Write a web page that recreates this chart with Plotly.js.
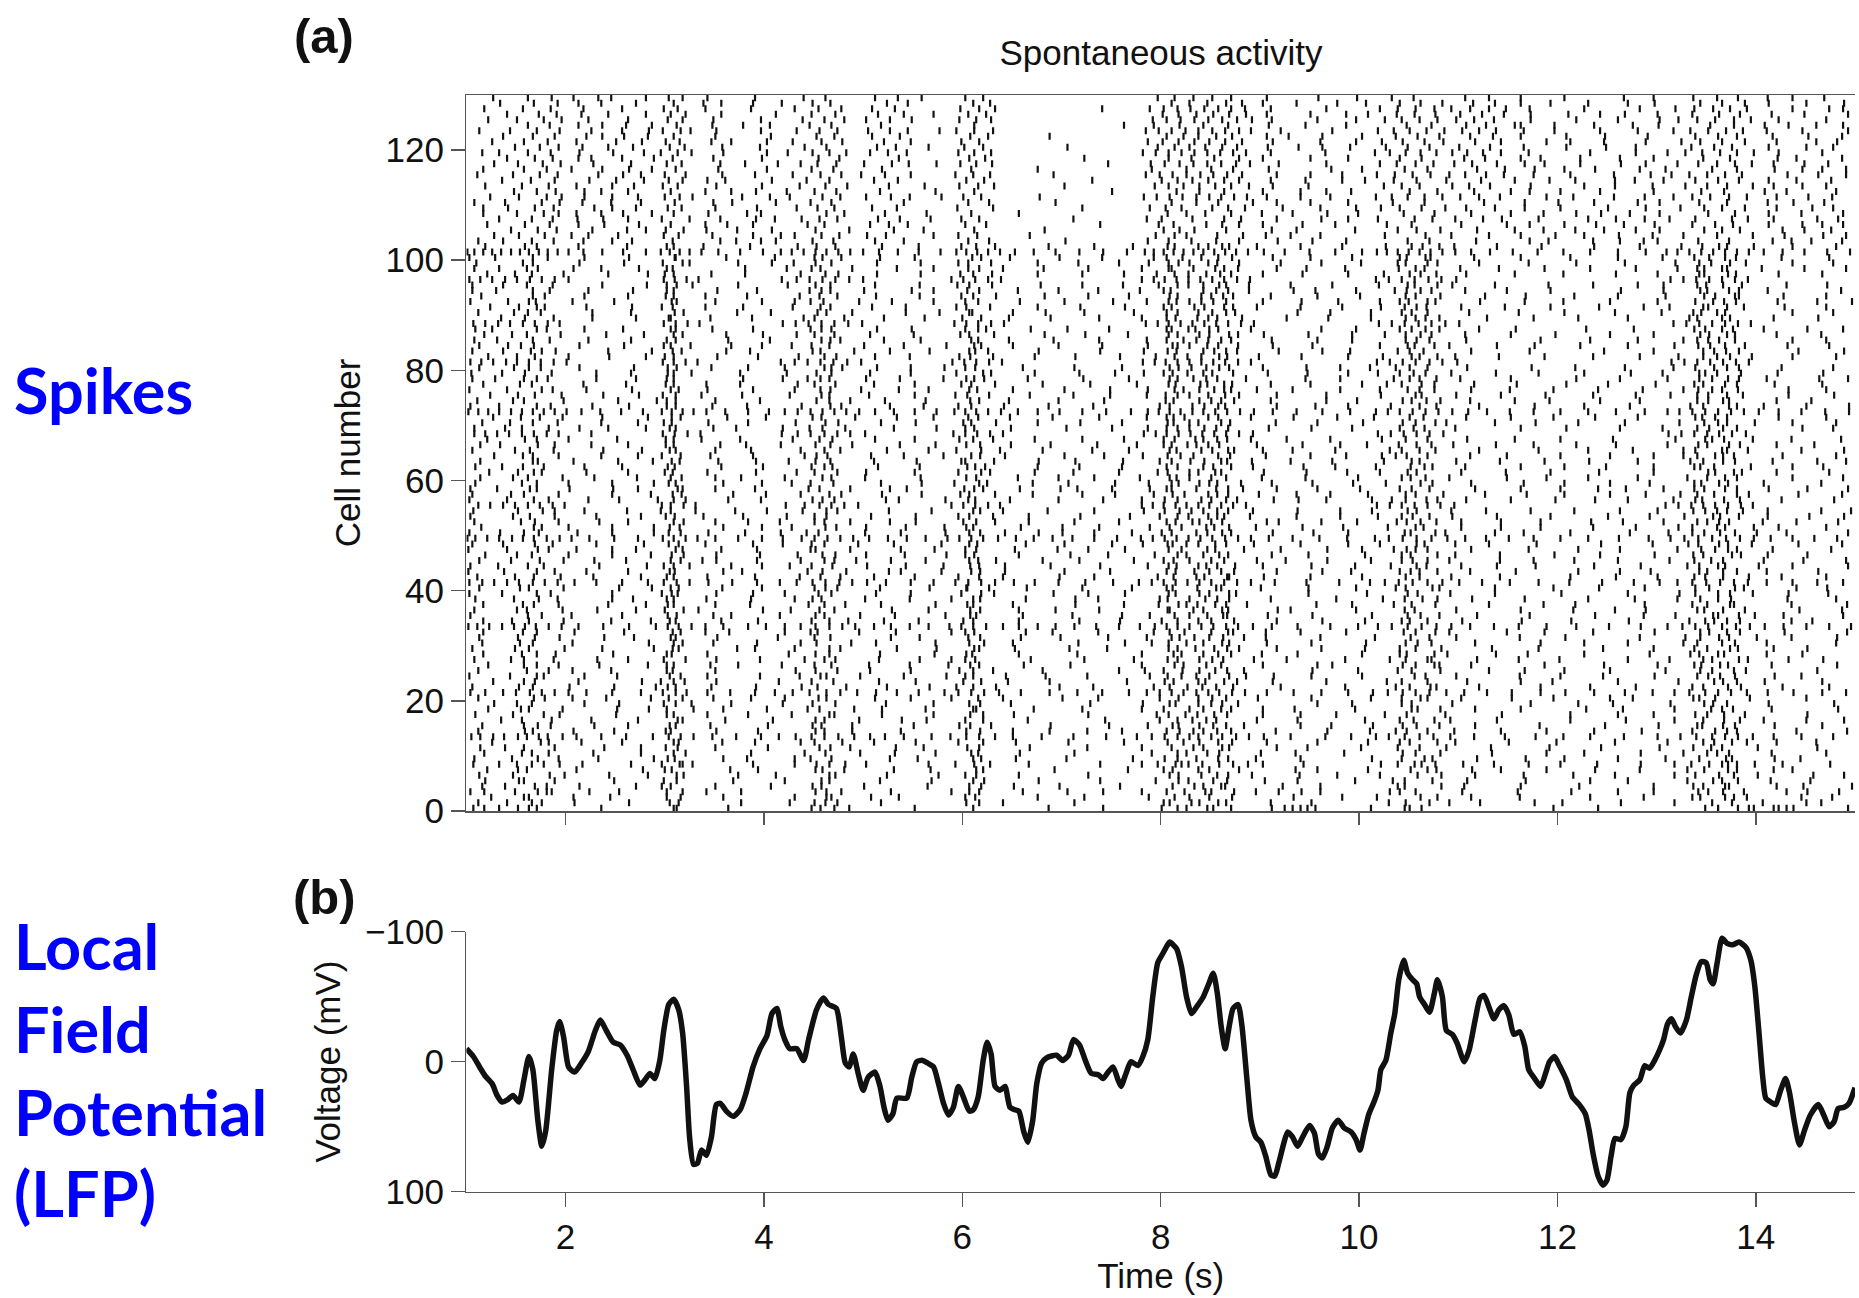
<!DOCTYPE html>
<html>
<head>
<meta charset="utf-8">
<script src="https://cdn.plot.ly/plotly-3.0.1.min.js"></script>
<style>html,body{margin:0;padding:0;background:#fff;}#chart{width:1859px;height:1298px;}</style>
</head>
<body>
<div id="chart"></div>
<script>
// ---------- DATA ----------
// Spike times per cell (index = cell number), in centiseconds
const spikeRowsCs = [
"107 118 133 152 171 236 312 364 448 471 486 552 687 742 801 826 847 871 912 925 933 941 948 956 1012 1046 1063 1196 1241 1349 1382 1393 1398 1418 1423 1431 1438 1493",
"112 141 166 209 264 305 377 426 462 474 518 604 641 713 803 839 866 911 952 1030 1091 1122 1177 1205 1264 1318 1376 1407 1451 1466",
"125 163 208 245 316 359 431 468 508 536 613 676 723 788 829 872 934 983 1018 1079 1113 1162 1233 1287 1336 1369 1391 1446 1477",
"104 118 149 172 186 224 254 302 342 377 452 463 478 528 589 617 661 706 742 781 806 824 845 874 896 919 942 961 1031 1057 1104 1160 1214 1261 1297 1342 1367 1388 1431 1452 1484",
"116 139 181 214 271 297 351 407 458 501 565 607 652 698 759 834 865 923 961 1046 1106 1163 1222 1297 1337 1373 1421 1448 1497",
"119 158 189 249 312 369 421 466 517 569 622 677 739 795 818 867 905 938 996 1034 1074 1109 1168 1233 1271 1331 1366 1415 1455",
"113 147 199 244 283 319 374 412 472 524 576 614 657 727 809 857 892 940 978 1021 1083 1117 1166 1216 1258 1318 1378 1402 1458 1489",
"121 152 211 278 300 366 394 459 481 531 568 621 693 767 803 838 879 936 958 1009 1069 1114 1143 1189 1238 1283 1331 1372 1418 1437",
"107 133 151 166 178 194 217 266 297 318 328 389 431 453 466 482 503 566 593 612 628 667 739 781 797 815 828 842 859 873 888 903 944 1022 1039 1056 1077 1105 1136 1171 1203 1240 1284 1318 1335 1353 1366 1381 1399 1427 1475",
"108 146 193 233 289 310 359 383 431 468 527 555 611 654 705 772 817 868 896 941 1013 1074 1119 1168 1207 1261 1309 1370 1419 1445",
"118 156 183 228 276 321 387 441 497 532 573 609 658 713 791 826 859 901 936 985 1044 1082 1134 1189 1227 1284 1327 1361 1416 1471",
"114 139 189 239 276 313 351 404 456 487 533 561 617 668 726 781 833 862 917 948 1002 1039 1088 1133 1192 1244 1303 1355 1402 1462",
"126 175 216 257 309 358 391 437 479 511 553 596 654 707 763 807 839 872 907 958 1009 1051 1097 1151 1199 1258 1311 1358 1391 1421 1461",
"105 114 127 138 152 161 173 182 197 211 236 261 288 304 316 329 348 372 397 415 432 448 461 475 491 507 522 541 569 588 604 617 633 651 680 712 745 776 791 804 817 829 838 851 862 876 889 904 931 966 992 1017 1030 1046 1061 1075 1092 1116 1147 1178 1206 1233 1267 1301 1324 1340 1356 1369 1382 1397 1418 1446 1478",
"112 159 208 249 306 352 394 452 489 538 604 651 688 726 761 819 843 871 916 968 1011 1048 1096 1143 1189 1237 1285 1336 1381 1441 1492",
"116 158 185 229 263 311 346 404 458 489 551 597 629 689 748 787 818 853 884 941 972 1014 1058 1117 1182 1248 1302 1346 1379 1419 1467",
"135 186 226 273 313 361 409 461 496 539 564 621 666 744 799 832 856 897 938 1006 1041 1092 1139 1213 1269 1318 1368 1408 1451 1489",
"109 147 194 251 302 343 384 428 466 519 571 608 652 727 796 825 867 903 941 977 1026 1087 1144 1213 1261 1297 1351 1389 1452",
"122 155 197 252 284 329 359 403 444 491 519 563 611 672 721 781 829 861 903 935 996 1053 1117 1163 1229 1266 1318 1366 1416 1483",
"128 166 219 254 299 327 367 419 472 523 571 618 649 729 782 815 851 878 958 993 1043 1094 1173 1221 1256 1314 1357 1413 1479",
"112 168 207 241 286 304 349 387 421 455 512 548 589 641 701 737 799 838 866 898 952 1012 1062 1103 1154 1196 1253 1276 1343 1394 1451",
"104 119 137 150 164 176 189 203 221 247 276 298 311 322 343 366 391 411 429 446 463 477 494 513 534 556 582 596 609 622 637 659 688 716 741 768 786 799 811 823 836 848 859 872 885 907 934 962 989 1014 1029 1044 1057 1071 1088 1106 1129 1154 1183 1208 1237 1268 1296 1318 1333 1349 1362 1375 1391 1412 1438 1467 1491",
"106 153 204 249 291 311 347 392 438 483 524 567 594 634 698 732 793 842 873 921 986 1037 1072 1121 1183 1233 1279 1336 1385 1427 1474",
"127 169 213 277 296 320 352 415 470 516 553 601 646 688 766 804 845 877 913 967 1028 1069 1109 1163 1195 1261 1322 1367 1409 1467",
"103 144 178 219 252 305 343 396 436 463 497 541 584 611 644 684 726 789 821 849 886 914 952 1003 1056 1098 1162 1203 1246 1298 1352 1379 1419 1446",
"112 161 207 246 302 351 432 474 507 548 597 631 681 758 784 822 855 884 953 999 1039 1082 1131 1167 1207 1253 1309 1356 1390 1462",
"122 158 193 234 283 309 346 374 418 468 506 547 586 608 662 709 781 814 861 903 958 973 1044 1076 1113 1187 1247 1301 1338 1364 1416 1482",
"108 145 188 232 263 299 352 396 441 472 516 557 589 603 669 723 773 817 852 894 927 986 1031 1073 1119 1161 1202 1271 1313 1347 1392 1433 1468",
"117 156 190 248 307 343 425 466 517 572 610 657 716 781 813 843 871 902 938 1003 1048 1089 1138 1170 1227 1293 1334 1368 1411 1447",
"106 149 199 237 289 314 373 391 431 477 534 574 617 653 708 746 808 854 879 917 962 1006 1041 1083 1134 1181 1246 1297 1338 1382 1418 1452",
"116 167 207 284 318 349 393 437 488 513 573 622 651 717 764 791 826 862 907 952 1007 1059 1117 1183 1227 1271 1327 1366 1411 1481",
"113 152 194 239 269 311 353 414 467 528 557 606 659 699 747 786 819 849 884 906 961 1016 1052 1098 1162 1208 1283 1329 1363 1401 1436 1482",
"117 171 209 259 308 341 365 421 454 496 533 589 612 664 691 737 793 824 873 906 941 987 1045 1091 1149 1187 1236 1298 1344 1371 1429 1492",
"102 111 123 136 148 159 170 183 196 213 238 264 291 303 314 327 341 359 384 402 421 437 452 466 479 492 511 528 547 566 587 599 611 624 641 657 676 694 713 735 758 779 794 806 817 829 841 853 866 878 893 912 938 971 999 1019 1033 1049 1063 1078 1093 1112 1136 1161 1189 1219 1252 1284 1311 1326 1339 1352 1366 1380 1394 1409 1428 1451 1474 1496",
"117 146 198 246 286 305 357 394 448 485 521 556 601 657 718 759 801 838 874 917 963 1006 1051 1104 1164 1214 1272 1333 1358 1384 1436 1457",
"104 162 206 257 312 349 367 416 461 497 532 583 614 661 711 761 789 829 863 908 953 1013 1062 1119 1172 1238 1287 1319 1362 1399 1428 1488",
"108 151 197 232 271 300 334 399 427 471 529 566 608 657 694 738 807 833 868 918 931 997 1046 1098 1163 1216 1258 1289 1348 1389 1444 1487",
"117 157 193 243 281 303 351 386 445 482 518 573 611 651 714 763 798 826 855 887 957 993 1035 1077 1131 1186 1218 1288 1336 1374 1436 1492",
"109 148 192 247 268 309 342 387 431 458 502 547 589 618 664 714 737 799 845 869 911 977 1024 1064 1114 1167 1231 1278 1321 1375 1432 1481",
"103 136 185 247 297 313 352 389 421 468 513 548 599 632 692 727 764 808 839 876 949 1008 1049 1092 1137 1204 1271 1323 1362 1397 1433 1473",
"113 154 198 254 287 306 358 398 451 474 517 567 605 627 665 721 771 812 861 901 949 997 1037 1081 1137 1196 1242 1288 1339 1388 1441 1472",
"103 116 128 141 153 167 179 192 209 231 257 283 299 312 325 344 368 393 416 433 449 462 476 489 504 523 548 571 593 606 619 633 652 673 697 724 752 778 791 803 815 827 839 851 864 877 891 915 947 980 1011 1026 1040 1054 1069 1084 1101 1124 1152 1181 1212 1245 1277 1303 1321 1336 1350 1364 1378 1392 1411 1437 1462 1488",
"111 149 195 228 276 302 343 391 436 477 511 552 596 641 698 733 797 836 869 904 951 1003 1047 1093 1142 1213 1259 1301 1349 1393 1426 1471",
"102 138 189 221 263 310 359 378 444 483 526 538 579 609 643 703 749 806 849 874 917 963 992 1041 1061 1112 1158 1221 1263 1294 1343 1367 1411 1463",
"104 132 178 234 282 299 325 367 398 426 469 504 543 581 608 643 689 739 787 816 846 875 903 952 996 1032 1068 1103 1139 1178 1237 1284 1331 1369 1403 1437 1493",
"113 145 198 229 261 306 338 352 393 437 461 493 528 563 616 634 681 718 773 813 864 897 926 968 1012 1054 1091 1142 1176 1217 1261 1313 1355 1408 1448 1491",
"119 151 203 247 286 319 352 396 434 472 503 542 584 612 657 709 747 794 826 859 912 949 1006 1043 1097 1142 1197 1243 1298 1337 1376 1412 1452",
"102 141 183 211 247 271 311 357 393 447 487 538 572 603 653 696 727 764 808 855 884 921 968 1003 1035 1069 1113 1171 1221 1263 1321 1345 1372 1417 1476",
"106 137 187 231 279 314 341 389 419 461 495 531 579 615 664 703 751 782 812 838 866 894 941 989 1021 1058 1097 1131 1179 1244 1296 1332 1363 1396 1443 1487",
"101 109 121 133 146 157 168 181 194 206 224 249 273 298 309 321 333 351 374 398 419 438 451 464 477 490 506 525 544 563 585 597 609 621 636 654 672 691 711 733 756 780 792 804 816 828 840 852 865 878 891 909 933 960 988 1016 1030 1044 1058 1073 1089 1107 1128 1151 1176 1203 1231 1262 1292 1314 1328 1342 1356 1370 1384 1398 1415 1437 1459 1482",
"103 134 173 212 247 289 304 344 381 417 443 502 538 583 607 643 677 701 733 771 801 847 871 913 954 989 1046 1087 1137 1166 1213 1273 1312 1336 1364 1401 1431 1493",
"115 168 203 247 289 315 359 398 428 473 503 543 582 611 659 701 738 789 821 854 896 943 984 1029 1065 1103 1143 1183 1236 1279 1322 1361 1398 1423 1471",
"108 155 193 234 263 309 351 384 416 451 487 527 553 601 633 667 713 758 815 839 862 907 919 962 998 1038 1062 1103 1143 1183 1234 1266 1307 1351 1373 1407 1441 1483",
"104 147 189 231 276 301 339 379 423 463 508 553 596 631 667 719 769 799 828 857 890 937 981 1019 1054 1094 1139 1193 1251 1293 1328 1364 1412 1454 1489",
"107 152 189 219 262 296 331 371 403 439 474 526 569 611 641 686 733 783 819 843 868 893 938 981 1013 1049 1093 1128 1173 1217 1263 1301 1337 1361 1387 1412 1466 1496",
"112 124 137 149 162 174 187 199 297 306 319 331 422 441 456 468 481 495 589 601 613 626 638 781 792 803 815 826 838 849 861 873 886 1018 1031 1043 1056 1069 1082 1096 1309 1322 1335 1347 1359 1372 1385 1397",
"103 141 183 223 254 293 321 364 397 449 471 523 536 583 606 648 697 742 781 804 851 877 914 939 967 1013 1033 1068 1108 1153 1198 1238 1271 1317 1339 1384 1426 1479",
"106 145 193 247 286 317 369 402 437 478 519 559 598 633 671 721 754 793 824 857 899 937 971 1009 1047 1085 1127 1169 1207 1253 1289 1324 1358 1393 1443 1487",
"104 131 171 204 248 273 313 351 391 445 487 527 544 602 621 658 699 716 751 789 811 856 883 917 958 1001 1041 1071 1117 1163 1203 1241 1269 1307 1348 1369 1413 1452 1493",
"109 156 203 247 289 311 359 398 428 470 518 559 592 625 671 707 754 788 818 849 881 912 953 994 1027 1062 1113 1166 1207 1253 1293 1338 1372 1408 1466",
"114 147 197 229 272 306 351 377 421 459 502 558 614 656 697 733 779 816 866 902 946 999 1052 1091 1149 1189 1231 1281 1331 1381 1437 1488",
"123 152 176 221 263 300 343 392 433 474 503 552 596 628 673 712 758 797 829 861 904 947 988 1021 1058 1103 1148 1193 1242 1297 1352 1386 1421 1474",
"109 136 178 219 257 310 357 399 448 469 515 557 605 623 676 718 761 806 853 893 944 976 1017 1066 1107 1163 1207 1249 1297 1344 1395 1437 1468",
"114 167 208 253 288 315 354 392 425 467 511 554 599 632 677 714 762 799 830 861 892 931 973 1025 1061 1098 1142 1187 1232 1281 1334 1367 1417 1462 1491",
"128 157 193 236 273 297 346 389 441 464 508 541 581 609 643 703 743 782 820 870 906 951 987 1023 1048 1112 1149 1203 1253 1297 1327 1359 1378 1427 1481",
"106 149 188 238 277 305 351 387 437 477 524 566 594 638 681 731 768 809 841 874 903 933 976 1031 1077 1121 1181 1231 1276 1327 1366 1392 1446 1489",
"114 134 189 226 263 309 356 382 417 452 489 537 573 604 649 689 736 776 811 836 859 897 943 981 1008 1040 1095 1138 1176 1219 1259 1311 1342 1373 1421 1459",
"121 171 203 252 301 337 376 429 469 512 552 597 631 673 721 763 803 835 867 891 927 971 1023 1069 1109 1157 1203 1256 1319 1356 1397 1436 1486",
"108 119 131 143 156 168 181 193 226 298 310 323 336 418 434 447 461 474 487 502 591 603 615 628 641 783 795 806 818 830 842 854 866 879 893 1019 1032 1045 1058 1071 1085 1312 1325 1338 1351 1363 1376 1390",
"108 139 183 214 243 281 311 349 372 419 446 482 531 574 612 649 705 751 787 817 844 868 909 952 993 1055 1097 1163 1209 1263 1306 1353 1381 1447 1478",
"116 144 192 236 273 299 344 384 432 475 518 553 601 634 676 719 761 807 838 870 916 958 1004 1044 1088 1137 1178 1221 1268 1323 1362 1399 1437 1481",
"127 155 197 237 283 307 363 402 449 492 534 571 606 648 691 738 786 813 858 891 934 978 1015 1065 1108 1153 1196 1238 1281 1346 1371 1423 1471",
"102 112 122 133 145 156 167 178 189 201 216 235 256 278 297 307 318 329 342 361 384 405 421 434 447 459 471 483 496 512 531 552 574 592 603 614 626 639 656 676 698 721 745 770 787 798 809 820 832 843 855 867 880 894 913 937 963 991 1017 1029 1041 1054 1067 1080 1094 1110 1129 1152 1176 1203 1231 1259 1288 1311 1323 1336 1349 1362 1375 1388 1403 1423 1446 1470 1494",
"104 133 185 227 264 302 348 383 438 478 527 561 596 642 687 732 799 832 865 917 956 989 1032 1078 1121 1177 1227 1273 1334 1373 1408 1451 1494",
"111 147 198 253 292 311 351 396 453 487 522 563 608 647 697 743 805 851 874 911 967 998 1044 1068 1112 1157 1192 1243 1283 1341 1367 1421 1456",
"124 152 196 238 274 298 337 378 426 466 506 552 593 627 668 712 749 786 817 848 879 917 967 1022 1057 1098 1143 1188 1236 1279 1314 1352 1387 1433 1479",
"103 141 187 221 267 306 343 389 431 457 498 536 566 615 651 703 749 787 814 839 864 897 933 981 1021 1049 1076 1113 1152 1196 1241 1286 1327 1356 1382 1433 1471",
"117 166 218 261 301 342 376 434 472 511 552 599 633 681 729 776 808 840 872 911 951 1003 1028 1063 1116 1159 1209 1251 1299 1347 1381 1419 1467",
"106 129 158 182 231 271 309 379 419 444 466 503 537 581 604 622 666 722 768 809 833 857 886 946 981 1035 1061 1102 1153 1219 1263 1311 1343 1372 1411 1464 1493",
"105 136 186 231 266 303 327 376 423 468 507 548 594 629 673 718 754 783 812 843 873 908 948 989 1019 1055 1093 1138 1181 1227 1274 1306 1349 1385 1422 1468",
"113 148 175 214 269 312 347 384 421 461 479 514 548 582 613 661 713 761 818 846 869 903 947 981 1011 1051 1109 1174 1218 1268 1317 1358 1383 1426 1478",
"104 115 127 140 151 163 175 188 201 298 309 321 333 417 431 444 457 470 484 498 590 602 614 627 640 782 794 805 817 829 841 853 865 878 891 1018 1031 1044 1057 1071 1084 1099 1315 1328 1341 1354 1367 1380 1393",
"122 151 203 244 281 300 353 394 435 473 512 547 597 631 673 714 759 795 827 859 899 942 989 1024 1061 1097 1141 1187 1236 1283 1322 1361 1396 1437 1481",
"106 137 165 190 243 287 308 362 386 449 491 527 567 607 626 677 739 783 807 854 877 919 963 991 1039 1065 1113 1172 1247 1297 1347 1370 1443 1489",
"113 142 168 214 259 299 326 367 398 428 466 501 541 584 612 651 697 741 787 817 847 878 913 953 1021 1056 1091 1139 1177 1223 1271 1318 1354 1389 1432 1474",
"108 131 184 223 266 311 364 406 458 477 521 558 609 647 692 738 786 823 848 871 912 958 993 1047 1071 1108 1183 1233 1281 1327 1352 1379 1437 1471",
"118 146 195 241 279 318 362 399 433 471 507 551 598 632 683 724 767 808 839 869 904 949 993 1026 1062 1107 1153 1198 1253 1297 1344 1379 1421 1466",
"109 126 181 219 258 306 348 389 447 468 514 549 603 624 669 706 748 811 835 858 891 962 997 1041 1067 1121 1158 1229 1277 1338 1366 1408 1452 1488",
"107 119 132 144 157 169 182 194 299 311 323 335 419 432 445 458 471 485 499 592 604 616 629 642 785 797 808 820 832 844 856 868 881 894 1020 1033 1046 1060 1073 1087 1101 1317 1330 1343 1356 1369 1382 1395",
"135 188 227 271 304 346 388 440 481 521 562 600 647 689 738 781 815 848 882 927 969 1012 1057 1081 1129 1176 1221 1271 1333 1374 1418 1463",
"112 148 175 227 266 310 373 407 454 489 543 577 610 651 684 723 773 806 852 875 938 971 1012 1043 1069 1111 1161 1207 1258 1305 1345 1369 1437 1478",
"124 153 179 221 267 297 341 379 429 467 509 543 594 628 676 719 764 803 834 864 897 941 983 1022 1058 1103 1147 1193 1242 1287 1313 1352 1388 1429 1471",
"104 142 170 207 249 307 351 398 431 460 496 529 571 616 658 703 752 786 816 841 866 903 942 979 1021 1050 1077 1122 1167 1206 1253 1301 1357 1380 1422 1462 1497",
"115 167 219 263 301 341 383 436 474 513 557 599 634 683 727 768 809 841 873 911 958 1001 1047 1082 1127 1168 1217 1261 1309 1348 1383 1428 1471",
"106 130 184 223 268 309 353 393 446 467 501 549 571 605 656 697 737 779 810 856 889 934 956 997 1036 1062 1107 1149 1193 1264 1307 1344 1373 1412 1486",
"106 137 187 237 282 302 328 374 424 467 512 557 595 630 679 721 762 798 828 859 889 931 973 1020 1056 1094 1137 1191 1236 1281 1307 1350 1386 1431 1472",
"103 114 126 139 151 164 176 189 203 299 310 322 334 418 433 446 459 472 486 500 589 601 613 626 639 781 793 804 816 828 840 852 864 877 890 1017 1030 1043 1056 1070 1083 1098 1314 1327 1340 1353 1366 1379 1392",
"121 149 198 243 283 300 347 381 437 475 514 558 598 630 676 721 763 796 828 860 903 943 989 1025 1062 1108 1157 1206 1259 1301 1343 1380 1423 1467",
"108 133 161 208 236 274 308 381 423 448 489 534 571 606 641 682 727 781 808 855 878 917 947 986 1040 1066 1102 1141 1187 1233 1279 1321 1348 1371 1406 1449 1491",
"110 167 214 259 298 325 374 408 430 468 514 558 596 629 676 717 758 788 818 848 879 921 962 1002 1039 1079 1121 1171 1219 1268 1319 1355 1390 1437 1478",
"103 129 182 219 264 310 362 411 459 478 517 552 610 648 698 741 793 822 872 913 951 993 1048 1072 1116 1163 1213 1261 1306 1353 1380 1426 1474",
"101 108 117 126 135 145 154 163 173 182 192 203 218 237 258 281 296 305 315 325 337 354 376 399 417 428 440 452 463 475 487 500 516 535 556 578 594 604 615 626 638 653 672 694 718 742 766 784 793 803 813 823 833 843 854 865 876 888 904 925 950 976 1003 1018 1028 1039 1050 1061 1072 1084 1097 1113 1132 1155 1180 1206 1233 1261 1289 1310 1321 1333 1345 1357 1369 1381 1393 1408 1427 1449 1472 1495",
"119 171 213 262 302 339 386 434 472 519 556 599 633 687 733 772 807 838 869 897 941 983 1027 1064 1096 1139 1184 1237 1283 1325 1363 1398 1437 1481",
"112 137 166 188 247 308 356 412 449 470 512 541 606 627 704 787 808 831 856 879 953 1049 1071 1118 1172 1236 1301 1342 1373 1417 1456",
"128 153 179 223 299 314 389 431 458 476 504 523 596 615 668 795 814 826 857 883 931 1026 1067 1093 1131 1198 1262 1327 1361 1397 1468",
"145 172 191 262 301 319 373 452 486 531 561 612 683 803 819 834 866 912 1039 1058 1082 1119 1157 1218 1279 1348 1366 1384 1427",
"121 159 184 239 306 341 444 461 507 526 545 603 624 739 798 813 846 862 879 976 1028 1053 1103 1149 1207 1267 1336 1359 1377 1447 1488",
"133 166 187 212 297 325 392 438 456 474 515 537 599 617 712 786 801 832 864 881 962 1019 1056 1074 1097 1125 1144 1231 1313 1339 1376 1392 1462",
"117 151 178 193 258 309 383 463 481 522 564 609 657 807 826 845 871 933 1045 1076 1113 1186 1244 1352 1379 1413",
"117 142 169 188 229 303 317 433 454 471 509 534 595 631 721 789 805 821 852 868 885 997 1022 1041 1063 1087 1108 1137 1251 1324 1348 1366 1389 1478",
"108 139 176 194 276 310 368 447 468 541 606 627 694 811 836 858 917 1034 1066 1126 1167 1281 1343 1371 1438",
"124 153 181 196 247 300 315 328 426 459 477 503 528 547 601 619 678 783 796 809 822 836 849 861 874 887 941 1017 1033 1049 1066 1084 1102 1121 1142 1189 1257 1317 1336 1354 1373 1391 1453",
"148 171 190 219 306 392 451 473 517 573 612 751 816 839 864 967 1051 1079 1116 1203 1345 1368 1409",
"119 156 183 247 298 313 436 462 484 526 597 616 632 703 794 808 823 839 855 871 889 1025 1043 1061 1094 1111 1132 1227 1329 1351 1371 1397 1471",
"136 165 189 304 318 361 443 466 511 535 604 622 731 801 817 832 848 864 879 983 1035 1058 1088 1123 1192 1278 1339 1362 1383 1441",
"111 147 174 192 233 300 321 429 457 478 498 522 548 593 611 628 692 785 799 812 826 840 853 867 882 951 1018 1036 1054 1072 1091 1107 1128 1146 1213 1294 1315 1333 1351 1369 1386 1432 1491",
"117 158 181 264 311 448 470 519 609 676 826 851 873 1046 1069 1119 1238 1356 1381 1467",
"128 152 177 195 302 317 381 437 454 473 501 529 546 598 614 630 747 790 804 819 833 847 861 876 890 1021 1038 1057 1075 1096 1114 1139 1187 1264 1321 1342 1361 1379 1396 1449",
"141 169 187 226 308 455 476 536 607 623 723 808 831 854 879 1041 1063 1106 1127 1223 1347 1374 1422",
"116 133 162 185 296 313 327 424 449 466 483 507 525 544 596 612 629 782 795 808 821 834 847 860 873 886 1016 1031 1047 1062 1078 1094 1109 1125 1143 1311 1329 1346 1364 1381 1398",
"149 174 193 243 305 320 441 463 514 533 602 621 706 797 814 829 845 862 877 963 1027 1049 1071 1101 1132 1209 1335 1358 1376 1451",
"126 158 182 301 315 367 429 458 479 521 548 599 617 787 802 818 834 849 865 882 1023 1044 1066 1085 1117 1143 1247 1325 1344 1366 1389 1482",
"137 167 189 259 309 453 471 509 537 608 626 688 806 823 838 856 872 929 1037 1059 1081 1112 1135 1291 1339 1362 1381",
"113 144 171 194 298 316 326 433 456 474 505 527 545 594 612 631 785 798 811 825 838 852 865 879 891 1019 1035 1051 1068 1086 1104 1121 1138 1317 1334 1352 1370 1387",
"162 184 237 312 446 468 518 612 763 819 843 868 1048 1073 1108 1128 1197 1354 1378 1433",
"122 151 178 196 303 318 439 461 481 503 527 549 597 614 629 792 806 820 834 848 862 877 892 1026 1043 1061 1079 1098 1116 1136 1322 1341 1359 1378 1395",
"141 173 191 281 306 321 448 472 515 541 606 624 802 818 836 853 869 886 987 1038 1056 1077 1102 1124 1146 1268 1336 1363 1384",
"118 157 185 299 313 431 455 478 509 532 598 617 633 741 789 803 817 830 844 858 871 885 1021 1039 1057 1076 1093 1112 1131 1148 1319 1338 1357 1374 1391 1474",
"134 168 192 309 357 449 467 524 545 611 628 811 829 847 866 882 1041 1062 1084 1115 1137 1231 1344 1366 1389",
"127 162 186 246 304 318 440 462 512 535 603 621 797 814 833 852 871 1033 1055 1107 1131 1337 1361 1382 1437"
];

// Additional spikes per cell read from the dense episodes and quieter stretches (centiseconds)
const extraSpikeRowsCs = [
"163 309 457 611 817 853 1051 1362",
"176 314 451 617 809 831 858 1047 1071 1356",
"158 302 463 603 814 849 1062 1344 1378",
"181 318 607 851 1041 1352",
"169 306 449 619 812 843 861 1039 1083 1347 1369",
"153 299 458 611 828 853 1046 1357 1382",
"184 312 466 603 818 841 868 1059 1339 1363",
"161 307 452 614 812 849 1052 1078 1348 1381",
"315 821 1063 1372",
"172 303 447 619 804 836 858 1043 1066 1343 1376",
"166 309 462 616 817 847 1057 1351 1373",
"158 301 467 605 811 843 869 1061 1337 1366",
"183 314 451 621 823 858 1041 1079 1347 1376",
"",
"167 301 461 618 806 833 857 1037 1069 1359 1371",
"172 305 449 608 812 839 866 1044 1081 1341 1367",
"156 318 452 603 817 846 1055 1076 1347 1384",
"178 309 471 621 808 837 854 1048 1339 1368",
"163 302 456 614 803 843 871 1059 1082 1355 1377",
"151 311 449 607 809 838 862 1053 1348 1371",
"179 318 463 616 818 852 1043 1069 1337 1359",
"",
"167 303 454 611 809 827 856 1051 1078 1347 1372",
"158 309 448 619 813 838 864 1043 1358 1381",
"171 316 457 603 807 836 869 1067 1341 1364",
"183 308 452 611 803 839 867 1053 1344 1378",
"171 302 451 617 823 846 1057 1081 1345 1372",
"158 321 461 613 807 839 863 1047 1069 1356 1383",
"171 302 452 604 821 858 1041 1076 1343 1362",
"163 308 466 612 817 835 867 1057 1351 1374",
"154 309 453 607 808 843 869 1047 1073 1341 1379",
"169 306 451 618 811 834 863 1071 1344 1373",
"157 316 447 603 809 851 868 1057 1077 1353 1384",
"",
"163 311 466 611 817 851 1043 1069 1349 1371",
"176 303 452 608 814 847 867 1049 1081 1357 1383",
"161 319 456 618 809 843 862 1056 1341 1367",
"168 309 461 605 818 837 866 1053 1351 1378",
"173 302 449 611 807 829 857 1046 1079 1344 1362",
"171 307 455 619 815 849 869 1059 1339 1374",
"163 314 462 604 806 837 856 1047 1074 1353 1379",
"",
"168 309 457 617 813 844 867 1061 1338 1367",
"171 305 459 618 815 834 861 1052 1079 1351 1381",
"162 309 448 617 808 838 857 1058 1343 1362",
"174 316 471 607 803 829 851 1043 1069 1338 1367",
"166 307 459 603 817 843 868 1052 1079 1347 1385",
"172 318 452 614 821 847 1048 1057 1359 1381",
"169 304 448 607 807 826 855 1066 1342 1372",
"",
"158 316 455 618 811 836 862 1052 1077 1348 1379",
"176 305 462 604 809 846 869 1057 1336 1369",
"169 319 461 614 806 832 851 1048 1078 1341 1363",
"164 310 451 607 817 848 864 1043 1071 1357 1383",
"177 306 463 618 804 831 857 1058 1349 1371",
"",
"168 309 459 613 817 841 866 1047 1079 1346 1368",
"158 308 466 607 812 848 868 1057 1341 1381",
"164 318 456 612 806 836 868 1053 1338 1381",
"171 304 447 617 811 839 857 1074 1345 1363",
"162 317 468 604 809 829 851 1043 1067 1351 1369",
"168 308 451 619 807 838 855 1049 1359 1378",
"157 303 461 613 817 843 871 1052 1074 1338 1358",
"172 307 452 603 811 844 867 1053 1347 1379",
"167 316 453 618 807 833 858 1037 1069 1341 1367",
"164 311 461 619 816 852 868 1043 1061 1339 1371",
"172 301 467 618 803 827 848 1058 1073 1351 1384",
"159 309 456 611 814 843 857 1047 1349 1368",
"",
"156 305 459 603 806 829 856 1041 1066 1341 1367",
"167 307 462 609 813 829 861 1057 1077 1348 1371",
"174 316 458 616 806 824 848 1051 1339 1359",
"",
"171 311 467 609 809 844 858 1061 1347 1381",
"158 302 466 617 813 839 861 1053 1082 1352 1373",
"169 311 458 605 805 829 865 1063 1341 1371",
"176 314 467 607 823 854 871 1061 1342 1366",
"154 309 451 609 815 847 864 1043 1076 1338 1369",
"171 302 457 612 817 846 1051 1078 1356 1383",
"159 309 453 621 803 827 852 1041 1067 1343 1361",
"163 303 468 603 809 831 859 1037 1069 1339 1371",
"",
"169 309 461 608 814 841 867 1053 1079 1347 1374",
"176 317 457 613 816 843 866 1051 1358 1383",
"155 306 448 619 812 829 858 1049 1076 1342 1369",
"167 302 467 616 806 836 861 1058 1341 1363",
"161 309 451 607 817 849 878 1047 1073 1353 1371",
"171 311 458 616 806 828 849 1053 1081 1349 1377",
"",
"159 306 451 619 806 837 857 1047 1067 1341 1366",
"162 319 463 607 817 838 866 1053 1337 1361",
"171 308 457 604 811 844 873 1046 1068 1347 1371",
"163 312 447 603 808 829 853 1041 1069 1339 1368",
"179 309 456 611 817 851 863 1057 1359 1379",
"167 302 458 617 803 843 868 1048 1073 1351 1383",
"161 312 452 607 817 843 866 1049 1079 1341 1367",
"",
"166 309 462 611 814 846 871 1051 1078 1348 1372",
"172 302 457 617 811 833 864 1057 1341 1366",
"157 318 452 606 808 829 857 1047 1069 1343 1374",
"167 311 451 619 806 841 858 1041 1067 1338 1369",
"",
"159 309 453 614 814 848 862 1053 1081 1346 1371",
"218 267 372 397 918 987 1191 1263 1287 1436 1487",
"206 253 348 417 571 906 961 1163 1227 1296 1429 1491",
"227 281 342 408 937 996 1186 1247 1303 1449 1476",
"213 274 363 389 903 943 1172 1239 1298 1413 1467",
"238 263 356 411 568 917 989 1181 1259 1288 1418 1483",
"211 236 287 344 397 902 968 999 1153 1219 1273 1303 1446 1488",
"247 271 351 393 923 961 1167 1203 1289 1421 1457",
"217 246 349 412 893 951 989 1201 1237 1303 1412 1469",
"219 273 378 406 579 907 971 1216 1288 1421 1477",
"236 263 341 367 423 903 941 992 1153 1172 1243 1297 1431 1481",
"211 269 352 398 562 913 949 1173 1258 1296 1418 1447",
"224 251 279 343 408 911 946 1006 1157 1218 1258 1307 1413 1476",
"258 276 358 391 917 983 1176 1257 1463",
"206 237 287 354 403 791 909 972 1003 1147 1177 1207 1283 1309 1419 1447 1491",
"228 266 356 414 574 919 967 1167 1223 1289 1418 1473",
"213 257 289 349 398 903 951 989 1163 1183 1263 1297 1441 1487",
"214 248 279 359 403 911 966 1171 1233 1279 1423 1467",
"217 268 358 396 566 908 939 991 1166 1249 1279 1413 1478",
"211 251 277 347 403 913 961 997 1189 1213 1289 1421 1461",
"221 237 283 351 407 907 963 1003 1163 1209 1248 1417 1453 1487",
"226 257 284 352 397 577 921 973 1166 1197 1243 1281 1411 1447 1493",
"213 261 287 348 379 406 793 909 946 987 1157 1163 1237 1276 1302 1409 1461 1488",
"223 263 349 397 912 958 997 1173 1219 1261 1303 1423 1471",
"216 243 357 412 571 907 951 1009 1173 1211 1243 1301 1416 1449 1493",
"218 257 341 387 911 967 1172 1227 1283 1437 1488",
"213 236 271 339 389 418 903 937 978 1007 1163 1193 1271 1298 1413 1451 1489",
"208 233 281 343 391 559 907 959 998 1163 1207 1267 1297 1412 1469"
];

// LFP trace: time (s) and voltage (mV)
const lfpTime = [1.00,1.07,1.14,1.19,1.26,1.31,1.36,1.42,1.47,1.53,1.58,1.63,1.67,1.72,1.76,1.80,1.86,1.91,1.94,1.98,2.03,2.09,2.16,2.23,2.30,2.35,2.41,2.48,2.55,2.62,2.68,2.75,2.80,2.85,2.90,2.95,2.99,3.04,3.09,3.14,3.18,3.22,3.25,3.29,3.33,3.37,3.42,3.47,3.52,3.56,3.62,3.69,3.76,3.82,3.89,3.96,4.03,4.08,4.13,4.17,4.21,4.26,4.33,4.40,4.45,4.53,4.60,4.65,4.73,4.78,4.82,4.86,4.90,4.95,5.00,5.05,5.12,5.17,5.21,5.25,5.30,5.34,5.44,5.49,5.54,5.60,5.65,5.71,5.76,5.81,5.86,5.91,5.96,6.01,6.07,6.11,6.16,6.21,6.25,6.29,6.33,6.38,6.43,6.48,6.53,6.57,6.62,6.66,6.71,6.75,6.80,6.85,6.95,7.01,7.07,7.12,7.18,7.24,7.30,7.37,7.42,7.47,7.52,7.57,7.60,7.65,7.70,7.77,7.82,7.87,7.92,7.97,8.02,8.07,8.09,8.16,8.21,8.26,8.31,8.36,8.43,8.48,8.53,8.57,8.61,8.65,8.69,8.73,8.78,8.82,8.87,8.91,8.96,9.01,9.06,9.11,9.15,9.19,9.24,9.28,9.33,9.38,9.43,9.50,9.55,9.59,9.63,9.68,9.73,9.79,9.85,9.92,9.97,10.01,10.05,10.10,10.15,10.19,10.22,10.27,10.32,10.36,10.40,10.45,10.49,10.54,10.58,10.61,10.66,10.71,10.76,10.79,10.84,10.88,10.94,10.99,11.06,11.11,11.17,11.22,11.26,11.31,11.36,11.41,11.46,11.51,11.56,11.62,11.67,11.71,11.77,11.83,11.88,11.92,11.97,12.02,12.09,12.15,12.22,12.28,12.32,12.36,12.41,12.46,12.50,12.54,12.58,12.64,12.69,12.73,12.77,12.83,12.88,12.93,12.98,13.03,13.07,13.11,13.15,13.19,13.24,13.30,13.35,13.40,13.45,13.50,13.54,13.57,13.61,13.66,13.71,13.77,13.83,13.90,13.95,13.99,14.03,14.07,14.10,14.15,14.20,14.25,14.30,14.34,14.39,14.44,14.49,14.55,14.63,14.69,14.74,14.79,14.83,14.89,14.94,15.00];
const lfpVoltage = [-10,-4,5,11,17,26,31,29,26,31,14,-4,6,45,65,53,6,-24,-31,-19,4,8,1,-8,-24,-32,-24,-15,-13,-5,6,18,14,9,13,-1,-24,-44,-48,-40,-22,19,58,79,78,68,72,58,33,32,38,42,37,24,4,-10,-20,-37,-41,-27,-17,-10,-10,-1,-17,-40,-49,-44,-41,-19,1,4,-6,9,22,12,8,19,35,45,40,28,28,12,0,-1,1,4,17,32,41,35,19,27,38,37,27,-1,-15,-6,19,22,19,35,37,38,54,62,45,17,1,-3,-5,-1,-5,-17,-13,-1,9,10,13,8,4,14,19,9,0,3,-4,-17,-50,-76,-83,-90,-92,-87,-73,-50,-37,-42,-50,-59,-68,-53,-27,-10,-27,-41,-44,-27,14,45,58,62,73,87,88,78,63,54,58,65,58,49,55,71,74,65,51,45,51,54,60,68,55,40,31,22,6,-1,-22,-37,-63,-78,-68,-63,-60,-50,-44,-38,-53,-63,-50,-24,-21,-14,0,-9,-32,-49,-51,-42,-33,-40,-43,-36,-21,-23,-12,6,13,19,9,0,-4,3,14,27,33,40,53,71,88,95,91,73,59,60,50,24,18,14,3,5,-1,-9,-17,-29,-33,-27,-22,-32,-50,-67,-77,-76,-63,-60,-76,-95,-91,-90,-92,-88,-78,-58,-24,12,28,31,33,22,13,24,47,64,53,41,33,42,50,46,36,35,32,20];

const rasterTicks = [2, 4, 6, 8, 10, 12, 14];
const cellTicks = [0, 20, 40, 60, 80, 100, 120];
const voltTicks = [-100, 0, 100];

// ---------- BUILD ----------
const spikeX = [], spikeY = [];
function addRows(rows) {
  rows.forEach((row, cell) => {
    const s = row.trim();
    if (!s) return;
    s.split(/\s+/).forEach(v => { spikeX.push(Number(v) / 100); spikeY.push(cell + 0.5); });
  });
}
addRows(spikeRowsCs);
addRows(extraSpikeRowsCs);

const FONT = 'Liberation Sans, Arial, Helvetica, sans-serif';
const LABEL_FONT = 'Lato, Noto Sans, sans-serif';
const INK = '#111111';
const AX = '#555555';
const BLUE = '#0000ff';
const W = 1859, H = 1298;
const xDom = [466.4 / W, 1855 / W];
const yDomA = [1 - 811 / H, 1 - 95 / H];
const yDomB = [1 - 1191.7 / H, 1 - 931.7 / H];

const traces = [
  {
    type: 'scatter', mode: 'markers', x: spikeX, y: spikeY, xaxis: 'x', yaxis: 'y',
    marker: { symbol: 'line-ns-open', size: 5, color: INK, line: { color: INK, width: 2.2 } },
    hoverinfo: 'skip', showlegend: false
  },
  {
    type: 'scatter', mode: 'lines', x: lfpTime, y: lfpVoltage, xaxis: 'x2', yaxis: 'y2',
    line: { color: INK, width: 5.5, shape: 'spline', smoothing: 0.6 },
    hoverinfo: 'skip', showlegend: false
  }
];

const tickFont = { family: FONT, size: 35, color: INK };
const titleFont = { family: FONT, size: 35, color: INK };
function sideLabel(text, yPix) {
  return { text: '<b>' + text + '</b>', x: 12 / W, y: 1 - yPix / H, xref: 'paper', yref: 'paper',
           showarrow: false, xanchor: 'left', yanchor: 'middle',
           font: { family: LABEL_FONT, size: 63, color: BLUE } };
}
function panelLabel(text, yPix) {
  return { text: '<b>' + text + '</b>', x: 324 / W, y: 1 - yPix / H, xref: 'paper', yref: 'paper',
           showarrow: false, xanchor: 'center', yanchor: 'middle',
           font: { family: FONT, size: 49, color: INK } };
}

const layout = {
  width: W, height: H,
  margin: { l: 0, r: 0, t: 0, b: 0 },
  paper_bgcolor: '#ffffff', plot_bgcolor: '#ffffff',
  font: { family: FONT, color: INK },
  showlegend: false,
  title: { text: 'Spontaneous activity', font: titleFont,
           x: 1161 / W, y: 1 - 53 / H, xref: 'paper', yref: 'paper', xanchor: 'center', yanchor: 'middle' },
  xaxis: {
    domain: xDom, range: [1, 15], anchor: 'y', tickvals: rasterTicks, showticklabels: false,
    ticks: 'outside', ticklen: 12, tickwidth: 1.5, tickcolor: AX,
    showline: true, linecolor: AX, linewidth: 1.5, mirror: true,
    showgrid: false, zeroline: false
  },
  yaxis: {
    domain: yDomA, range: [0, 130], anchor: 'x', tickvals: cellTicks,
    ticks: 'outside', ticklen: 14, tickwidth: 1.5, tickcolor: AX, tickfont: tickFont,
    showline: true, linecolor: AX, linewidth: 1.5,
    showgrid: false, zeroline: false,
    title: { text: 'Cell number', font: titleFont, standoff: 14 }
  },
  xaxis2: {
    domain: xDom, range: [1, 15], anchor: 'y2', tickvals: rasterTicks,
    ticks: 'outside', ticklen: 14, tickwidth: 1.5, tickcolor: AX, tickfont: tickFont,
    showline: true, linecolor: AX, linewidth: 1.5,
    showgrid: false, zeroline: false,
    title: { text: 'Time (s)', font: titleFont, standoff: 8 }
  },
  yaxis2: {
    domain: yDomB, range: [100, -100], anchor: 'x2', tickvals: voltTicks,
    ticks: 'outside', ticklen: 14, tickwidth: 1.5, tickcolor: AX, tickfont: tickFont,
    showline: true, linecolor: AX, linewidth: 1.5,
    showgrid: false, zeroline: false,
    title: { text: 'Voltage (mV)', font: titleFont, standoff: 14 }
  },
  annotations: [
    panelLabel('(a)', 36),
    panelLabel('(b)', 897),
    sideLabel('Spikes', 390),
    sideLabel('Local', 946),
    sideLabel('Field', 1028),
    sideLabel('Potential', 1111),
    sideLabel('(LFP)', 1192)
  ]
};

Plotly.newPlot('chart', traces, layout, { staticPlot: true, displayModeBar: false });
</script>
</body>
</html>
